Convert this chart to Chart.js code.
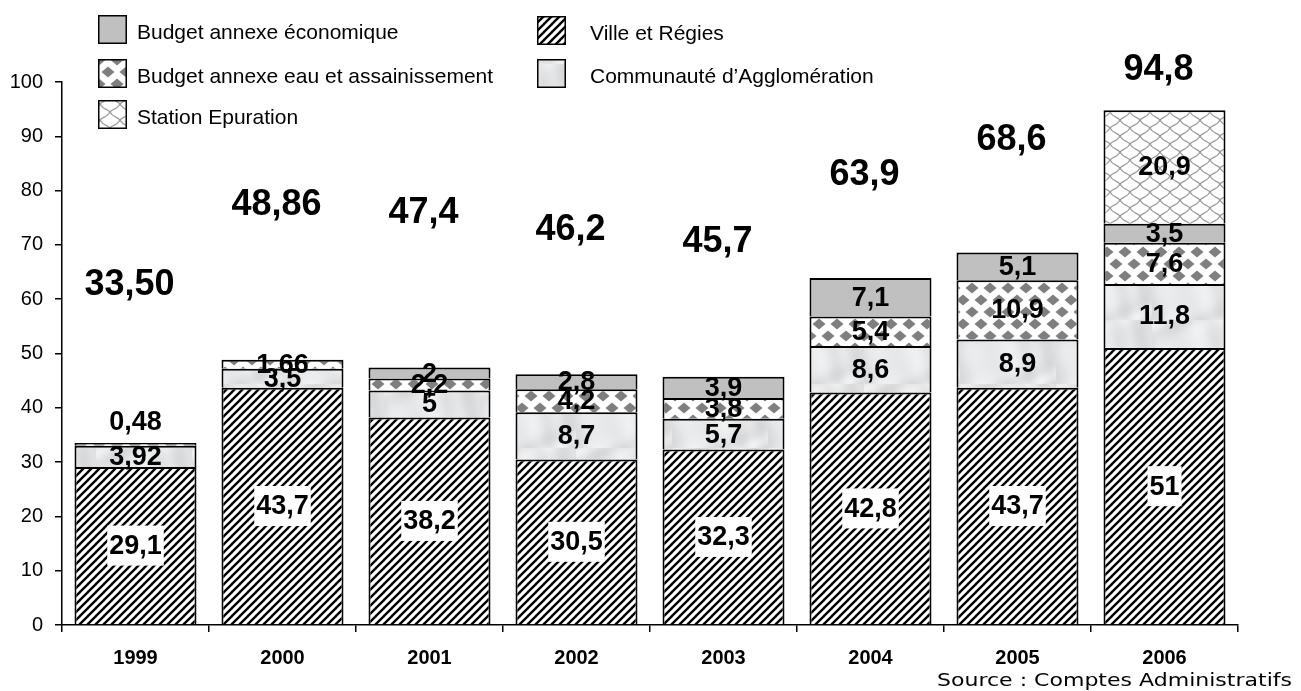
<!DOCTYPE html>
<html><head><meta charset="utf-8">
<script src="https://cdn.jsdelivr.net/npm/chart.js@4"></script>
<style>html,body{margin:0;padding:0;background:#fff;}canvas{display:block;}</style>
</head><body>
<canvas id="c" width="1301" height="691"></canvas>
<script>
// ---- data ----
const years = ['1999','2000','2001','2002','2003','2004','2005','2006'];
const villeRegies = [29.1, 43.7, 38.2, 30.5, 32.3, 42.8, 43.7, 51];
const communaute = [3.92, 3.5, 5, 8.7, 5.7, 8.6, 8.9, 11.8];
const eauAssain = [0.48, 1.66, 2.2, 4.2, 3.8, 5.4, 10.9, 7.6];
const economique = [null, null, 2, 2.8, 3.9, 7.1, 5.1, 3.5];
const station = [null, null, null, null, null, null, null, 20.9];
const totalLabels = ['33,50','48,86','47,4','46,2','45,7','63,9','68,6','94,8'];
const totalLabelLevel = [62.6, 77.3, 75.9, 72.7, 70.6, 82.9, 89.3, 102.2];
const segmentLabels = {
  ville: ['29,1','43,7','38,2','30,5','32,3','42,8','43,7','51'],
  agglo: ['3,92','3,5','5','8,7','5,7','8,6','8,9','11,8'],
  eau: ['0,48','1,66','2,2','4,2','3,8','5,4','10,9','7,6'],
  eco: [null,null,'2','2,8','3,9','7,1','5,1','3,5'],
  station: [null,null,null,null,null,null,null,'20,9']
};

// ---- patterns ----
function mk(w,h,fn){const c=document.createElement('canvas');c.width=w;c.height=h;const g=c.getContext('2d');fn(g,w,h);return c;}
const ctx0 = document.getElementById('c').getContext('2d');
const hatchTile = mk(8,8,(g,w,h)=>{g.fillStyle='#fff';g.fillRect(0,0,w,h);g.strokeStyle='#000';g.lineWidth=2.4;
  for(let k=-1;k<=1;k++){g.beginPath();g.moveTo(k*8-1,h+1);g.lineTo(k*8+w+1,-1);g.stroke();}});
const marbleTile = mk(96,64,(g,w,h)=>{const d=g.createImageData(w,h);
  for(let y=0;y<h;y++)for(let x=0;x<w;x++){
    const t=Math.sin(x*0.09+y*0.13+2.5*Math.sin(y*0.07+x*0.02))+0.6*Math.sin(x*0.21-y*0.05+1.3*Math.cos(x*0.06));
    const v=Math.round(228+8*t);const i=(y*w+x)*4;d.data[i]=v-2;d.data[i+1]=v;d.data[i+2]=v+2;d.data[i+3]=255;}
  g.putImageData(d,0,0);});
const diamondTile = mk(18,24,(g,w,h)=>{g.fillStyle='#fff';g.fillRect(0,0,w,h);g.fillStyle='#7f7f7f';
  const pts=[[0,0],[18,0],[9,12],[0,24],[18,24]];
  pts.forEach(([cx,cy])=>{g.beginPath();g.moveTo(cx-6.5,cy);g.lineTo(cx,cy-5.5);g.lineTo(cx+6.5,cy);g.lineTo(cx,cy+5.5);g.closePath();g.fill();});});
const scaleTile = mk(20,16,(g,w,h)=>{g.fillStyle='#fff';g.fillRect(0,0,w,h);g.strokeStyle='#9a9a9a';g.lineWidth=1.3;
  [[0,0],[20,0],[10,8],[0,16],[20,16]].forEach(([cx,cy])=>{g.beginPath();g.moveTo(cx-10,cy);g.bezierCurveTo(cx-7,cy+6,cx-3,cy+4,cx,cy+8);g.bezierCurveTo(cx+3,cy+4,cx+7,cy+6,cx+10,cy);g.stroke();});});
const pHatch = ctx0.createPattern(hatchTile,'repeat');
const pMarble = ctx0.createPattern(marbleTile,'repeat');
const pDiamond = ctx0.createPattern(diamondTile,'repeat');
const pScale = ctx0.createPattern(scaleTile,'repeat');
const ECO = '#c0c0c0';

const FONT = "'Liberation Sans', Arial, sans-serif";

const labelsPlugin = {
  id:'labelsPlugin',
  afterDatasetsDraw(chart){
    const g = chart.ctx; const ys = chart.scales.y;
    const keys=['ville','agglo','eau','eco','station'];
    g.save();
    g.textAlign='center'; g.textBaseline='middle';
    keys.forEach((k,di)=>{
      const meta = chart.getDatasetMeta(di);
      meta.data.forEach((el,i)=>{
        const txt = segmentLabels[k][i]; if(!txt) return;
        let cy = (el.y+el.base)/2;
        g.font = "bold 27px "+FONT;
        if(k==='eau' && i===0){ cy = el.y - 22; }
        if(k==='ville'){
          const tw = g.measureText(txt).width;
          g.fillStyle='#fff'; g.fillRect(el.x-tw/2-2, cy-20, tw+4, 40);
        }
        g.fillStyle='#000'; g.fillText(txt, el.x, cy+1);
      });
    });
    // totals
    g.font = "bold 36px "+FONT;
    const meta0 = chart.getDatasetMeta(0);
    totalLabels.forEach((t,i)=>{
      const x = meta0.data[i].x - 6;
      g.fillText(t, x, ys.getPixelForValue(totalLabelLevel[i]));
    });
    g.restore();
  },
  afterDraw(chart){
    const g = chart.ctx; g.save();
    const items = [
      [98,15,137,ECO,'Budget annexe économique'],
      [98,59,137,pDiamond,'Budget annexe eau et assainissement'],
      [98,100,137,pScale,'Station Epuration'],
      [537,16,590,pHatch,'Ville et Régies'],
      [537,59,590,pMarble,'Communauté d’Agglomération']
    ];
    g.font = "21px "+FONT; g.textBaseline='middle'; g.textAlign='left';
    items.forEach(([x,y,tx,f,t])=>{
      g.fillStyle=f; g.fillRect(x,y,29,29);
      g.strokeStyle='#000'; g.lineWidth=1.5; g.strokeRect(x+0.75,y+0.75,27.5,27.5);
      g.fillStyle='#000'; g.fillText(t, tx, y+18);
    });
    // source (stretched to reference width)
    g.font = "18px 'DejaVu Sans', sans-serif"; g.textAlign='left'; g.textBaseline='alphabetic';
    const src = 'Source : Comptes Administratifs';
    const w = g.measureText(src).width;
    const target = 355;
    g.translate(1292 - target, 686);
    g.scale(target / w, 1);
    g.fillText(src, 0, 0);
    g.restore();
  }
};

const common = {borderColor:'#000', borderWidth:2, barPercentage:0.83, categoryPercentage:1};
new Chart(document.getElementById('c'), {
  type:'bar',
  data:{
    labels: years,
    datasets:[
      Object.assign({label:'Ville et Régies', data:villeRegies, backgroundColor:pHatch}, common),
      Object.assign({label:'Communauté d’Agglomération', data:communaute, backgroundColor:pMarble}, common),
      Object.assign({label:'Budget annexe eau et assainissement', data:eauAssain, backgroundColor:pDiamond}, common),
      Object.assign({label:'Budget annexe économique', data:economique, backgroundColor:ECO}, common),
      Object.assign({label:'Station Epuration', data:station, backgroundColor:pScale}, common)
    ]
  },
  options:{
    responsive:false, animation:false,
    layout:{padding:{top:82,right:63,left:0,bottom:0}},
    plugins:{legend:{display:false}, tooltip:{enabled:false}},
    scales:{
      x:{stacked:true,
         grid:{display:true, drawOnChartArea:false, drawTicks:true, tickLength:7, color:'#000', lineWidth:1.5},
         border:{color:'#000', width:1.5},
         ticks:{font:{family:FONT, weight:'bold', size:20}, color:'#000', padding:14},
         afterFit(s){ s.height = 66; }},
      y:{stacked:true, min:0, max:100,
         grid:{display:true, drawOnChartArea:false, drawTicks:true, tickLength:7, color:'#000', lineWidth:1.5},
         border:{color:'#000', width:1.5},
         ticks:{stepSize:10, font:{family:FONT, size:20}, color:'#000', padding:12},
         afterFit(s){ s.width = 62; }}
    }
  },
  plugins:[labelsPlugin]
});
</script>
</body></html>
